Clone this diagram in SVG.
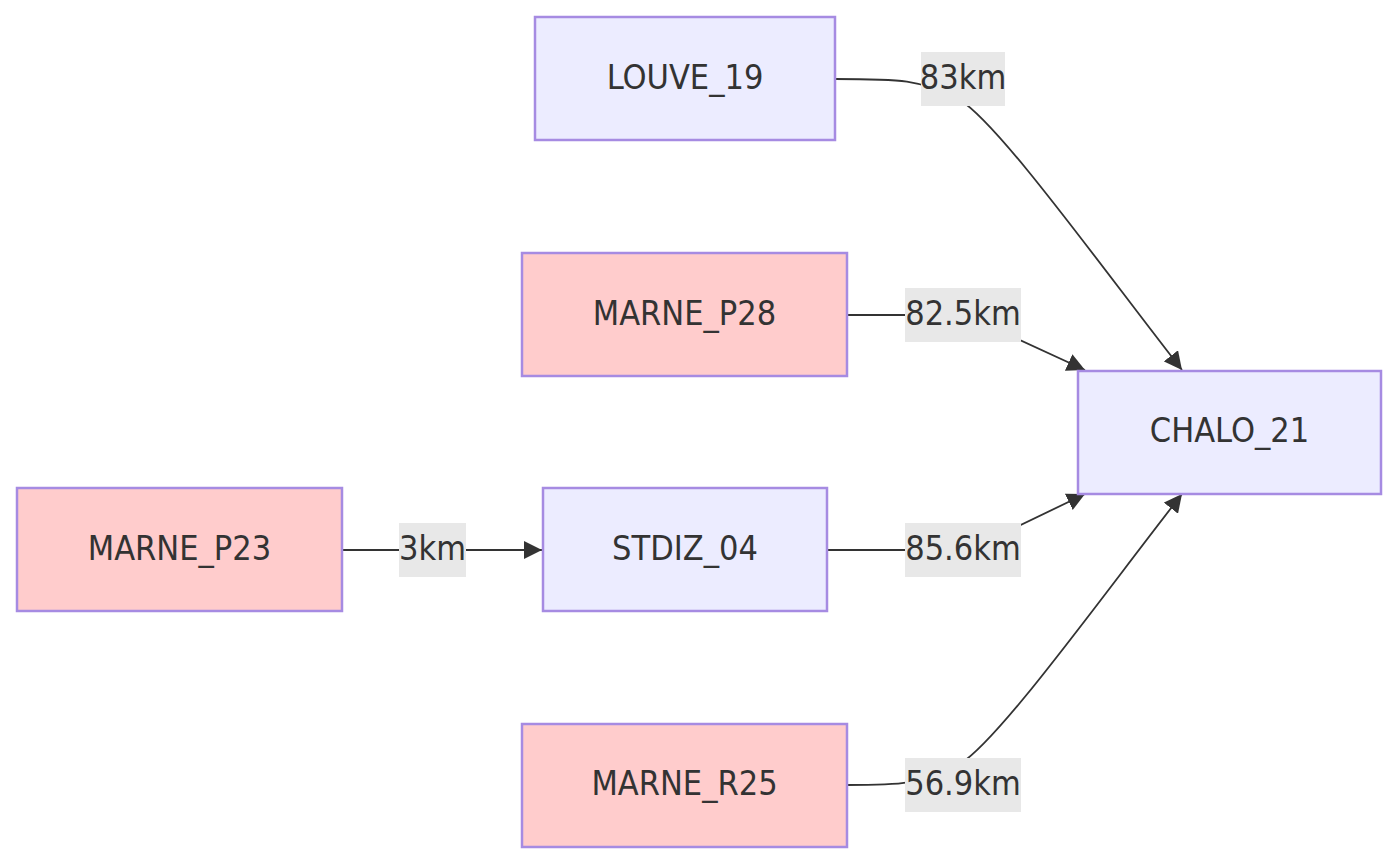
<svg xmlns="http://www.w3.org/2000/svg" width="1400" height="865" viewBox="0 0 1400 865">
<style>
.node rect{stroke:#a68be2;stroke-width:2.5}
.blue rect{fill:#ececff}
.red rect{fill:#ffcccc}
text{font-family:"DejaVu Sans Condensed","DejaVu Sans",sans-serif;font-stretch:condensed;font-size:34px;fill:#333;text-anchor:middle;dominant-baseline:central}
.edge{fill:none;stroke:#333;stroke-width:1.8}
.lbl rect{fill:#e8e8e8}
</style>
<defs>
<marker id="arr" viewBox="0 0 10 10" refX="10" refY="5" markerUnits="userSpaceOnUse" markerWidth="18" markerHeight="18" orient="auto">
<path d="M0,0 L10,5 L0,10 z" fill="#333"/>
</marker>
</defs>
<rect width="1400" height="865" fill="#fff"/>
<g id="connectors">
<path class="edge" d="M835,79 C900,79 920,79 960,100 C1000,125 1100,265 1182,370" marker-end="url(#arr)"/>
<path class="edge" d="M847,315 L905,315 C950,315 980,322 1000,331 L1085,370" marker-end="url(#arr)"/>
<path class="edge" d="M827,550 L905,550 C950,550 980,543 1000,535 L1085,494" marker-end="url(#arr)"/>
<path class="edge" d="M847,785 C900,785 920,785 960,764 C1000,739 1100,599 1182,494" marker-end="url(#arr)"/>
<path class="edge" d="M343,550 L542,550" marker-end="url(#arr)"/>
<g class="lbl"><rect x="921" y="52" width="84" height="54"/><text x="963" y="77">83km</text></g>
<g class="lbl"><rect x="905" y="288" width="116" height="54"/><text x="963" y="313">82.5km</text></g>
<g class="lbl"><rect x="905" y="523" width="116" height="54"/><text x="963" y="548">85.6km</text></g>
<g class="lbl"><rect x="905" y="758" width="116" height="54"/><text x="963" y="783">56.9km</text></g>
<g class="lbl"><rect x="399" y="523" width="67" height="54"/><text x="432.5" y="548">3km</text></g>
</g>
<g id="LOUVE_19" class="node blue"><rect x="535" y="17" width="300" height="123"/><text x="685" y="77">LOUVE_19</text></g>
<g id="MARNE_P28" class="node red"><rect x="522" y="253" width="325" height="123"/><text x="684.5" y="313">MARNE_P28</text></g>
<g id="CHALO_21" class="node blue"><rect x="1078" y="371" width="303" height="123"/><text x="1229.5" y="430">CHALO_21</text></g>
<g id="MARNE_P23" class="node red"><rect x="17" y="488" width="325" height="123"/><text x="179.5" y="548">MARNE_P23</text></g>
<g id="STDIZ_04" class="node blue"><rect x="543" y="488" width="284" height="123"/><text x="685" y="548">STDIZ_04</text></g>
<g id="MARNE_R25" class="node red"><rect x="522" y="724" width="325" height="123"/><text x="684.5" y="783">MARNE_R25</text></g>
</svg>
